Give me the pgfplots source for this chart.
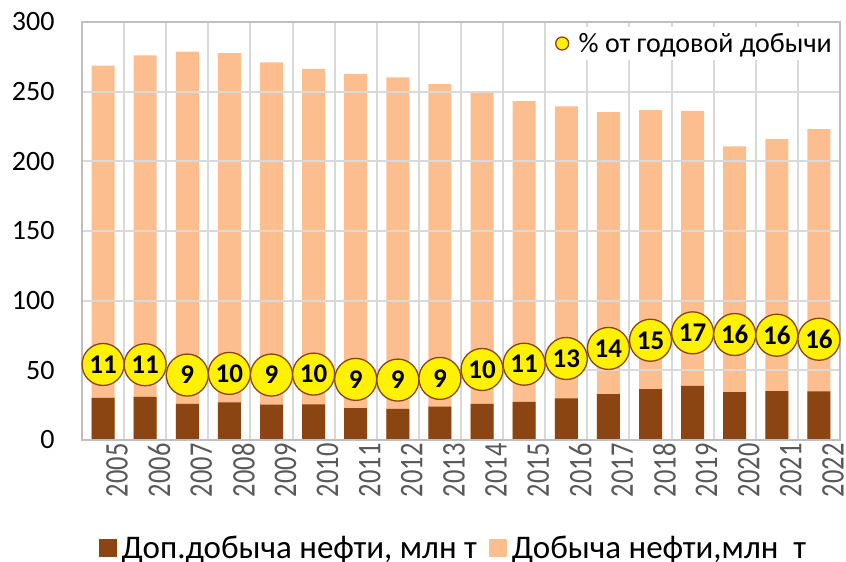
\documentclass[border=0pt]{standalone}
\usepackage{fontspec}
\setmainfont{Carlito}
\newfontfamily\narrowfont[FakeStretch=0.8]{Carlito}
\usepackage{pgfplots}
\usepackage{pgfplotstable}
\pgfplotsset{compat=1.18}
\definecolor{oilfill}{RGB}{252,189,143}
\definecolor{extrabar}{RGB}{139,69,19}
\definecolor{gridc}{RGB}{217,217,217}
\definecolor{axisc}{RGB}{191,191,191}
\definecolor{yearc}{RGB}{89,89,89}

% x = position, total = добыча, extra = доп. добыча, cy = circle height, p = % label
\pgfplotstableread{
x total extra cy p
0 268.6 30.3 54.2 11
1 276.0 31.0 54.0 11
2 278.7 26.0 46.6 9
3 277.7 27.0 47.8 10
4 271.0 25.3 46.6 9
5 266.3 25.6 47.3 10
6 262.7 22.9 43.5 9
7 260.3 22.4 43.0 9
8 255.5 23.9 44.2 9
9 250.2 26.0 50.6 10
10 243.3 27.4 54.4 11
11 239.5 29.9 58.5 13
12 235.4 33.0 65.7 14
13 236.8 36.5 71.6 15
14 236.3 38.9 76.9 17
15 210.8 34.4 75.7 16
16 216.0 35.1 75.2 16
17 223.2 34.9 72.3 16
}\oildata

\begin{document}
\begin{tikzpicture}
\begin{axis}[
    name=ax,
    scale only axis,
    width=758pt, height=418pt,
    xmin=-0.5, xmax=17.5,
    ymin=0, ymax=300,
    ytick={0,50,...,300},
    xtick={0,...,17},
    xticklabels={2005,2006,2007,2008,2009,2010,2011,2012,2013,2014,2015,2016,2017,2018,2019,2020,2021,2022},
    minor xtick={-0.5,0.5,...,17.5},
    minor x tick style={draw=none},
    xminorgrids=true,
    ymajorgrids=true,
    grid style={gridc, line width=2pt},
    minor grid style={gridc, line width=2pt},
    major tick length=0pt,
    minor tick length=0pt,
    axis line style={axisc, line width=1.5pt},
    axis on top,
    /pgf/number format/assume math mode=true,
    yticklabel style={anchor=east, xshift=-24pt, font=\fontsize{28}{30}\selectfont},
    xticklabel style={rotate=90, anchor=east, yshift=-14pt, text=yearc,
        font=\narrowfont\fontsize{33}{35}\selectfont},
    legend columns=2,
    reverse legend,
    legend style={at={(axis description cs:0.49,-0.258)}, anchor=center,
        draw=none, fill=none, font=\fontsize{33}{36}\selectfont,
        /tikz/every even column/.append style={column sep=10pt}},
]
\addplot[ybar, bar shift=0pt, bar width=23pt, fill=oilfill, draw=none,
    legend image code/.code={\fill[oilfill] (0pt,-9pt) rectangle (18pt,9pt);}]
    table[x=x, y=total] {\oildata};
\addlegendentry{\hspace{3pt}Добыча нефти,млн\ \ т}
\addplot[ybar, bar shift=0pt, bar width=23pt, fill=extrabar, draw=none,
    legend image code/.code={\fill[extrabar] (0pt,-9pt) rectangle (18pt,9pt);}]
    table[x=x, y=extra] {\oildata};
\addlegendentry{\hspace{3pt}Доп.добыча нефти, млн т}
\end{axis}

\begin{axis}[
    scale only axis,
    width=758pt, height=418pt,
    xmin=-0.5, xmax=17.5,
    ymin=0, ymax=300,
    hide axis,
    clip=false,
    legend style={at={(rel axis cs:1,1)}, anchor=north east, xshift=-2pt, yshift=-5pt,
        draw=none, fill=white, font=\fontsize{28}{30}\selectfont,
        inner xsep=4pt, inner ysep=4pt},
    legend image code/.code={\draw[#1, mark size=6.5pt, line width=0.8pt] plot coordinates {(8pt,0pt)};},
]
\addplot[only marks, mark=*, mark size=21pt,
    mark options={fill=yellow, draw=extrabar, line width=1.3pt},
    nodes near coords, point meta=explicit symbolic,
    nodes near coords align=center,
    nodes near coords style={font=\fontsize{27}{29}\selectfont\bfseries, text=black, text depth=0pt}]
    table[x=x, y=cy, meta=p] {\oildata};
\addlegendentry{\hspace{8pt}\% от годовой добычи}
\end{axis}

\pgfresetboundingbox
\path[use as bounding box] ([xshift=-82pt,yshift=-122pt]ax.south west) rectangle ([xshift=6pt,yshift=22pt]ax.north east);
\end{tikzpicture}
\end{document}
